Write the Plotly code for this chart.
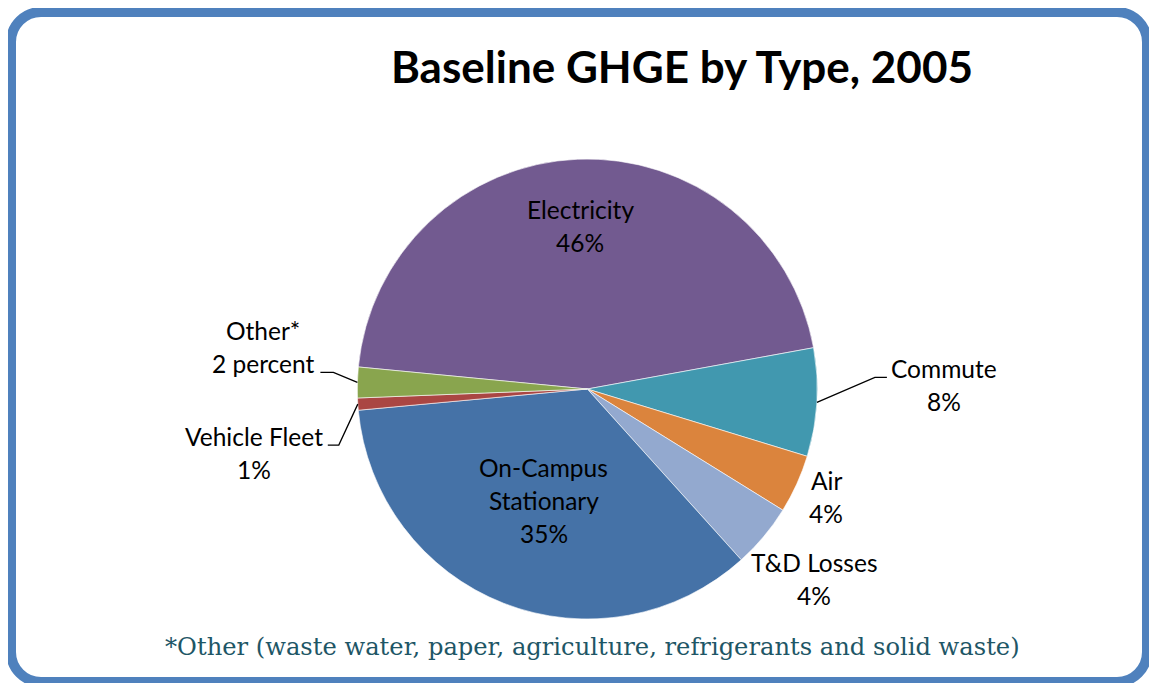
import math
import plotly.graph_objects as go

W, H = 1149, 675
PAGE_OFF = 8                  # browser body margin

# ---- data ----
categories = ["Electricity", "Commute", "Air", "T&D Losses",
              "On-Campus Stationary", "Vehicle Fleet", "Other*"]
values = [45.6, 7.6, 4.1, 4.5, 35.2, 0.85, 2.15]
name_lines = [["Electricity"], ["Commute"], ["Air"], ["T&D Losses"],
              ["On-Campus", "Stationary"], ["Vehicle Fleet"], ["Other*"]]
pct_labels = ["46%", "8%", "4%", "4%", "35%", "1%", "2 percent"]
title_text = "Baseline GHGE by Type, 2005"
footnote_text = "*Other (waste water, paper, agriculture, refrigerants and solid waste)"

# ---- styles / layout (window pixel coordinates) ----
colors = ["#725A90", "#4198AF", "#DB843D", "#93A9CF", "#4572A7", "#AA4643", "#89A54E"]
start_angle = 275.5           # clockwise from 12 o'clock
cx, cy, R = 587.3, 389.0, 230.0
line_gap = 33
label_font = dict(family="Lato", size=24.5, color="#000000")

# label placement: ('in', radius factor) | ('out', radius factor) | ('lead', elbow dx, dy, tail dx, label dx, dy)
placement = [
    ("in", 0.71),
    ("lead", 58, -25, 12, 57, 8),
    ("out", 1.14),
    ("out", 1.285),
    ("in", 0.52),
    ("lead", -19, 41, -11, -74, 8),
    ("lead", -24, -10, -13, -57, -25),
]


def px(x):
    return (x - PAGE_OFF) / W


def py(y):
    return 1 - (y - PAGE_OFF) / H


fig = go.Figure()
fig.add_trace(go.Pie(
    labels=categories, values=values, sort=False, direction="clockwise",
    rotation=start_angle - 360, textinfo="none", hoverinfo="label+percent",
    marker=dict(colors=colors, line=dict(color="#FFFFFF", width=0.6)),
    domain=dict(x=[px(cx - R), px(cx + R)], y=[py(cy + R), py(cy - R)]),
    showlegend=False,
))

annotations = []
shapes = []

total = sum(values)
acc = 0.0
for i, v in enumerate(values):
    mid = math.radians(start_angle + (acc + v / 2) / total * 360)
    acc += v
    sx, sy = math.sin(mid), -math.cos(mid)
    lines = name_lines[i] + [pct_labels[i]]
    p = placement[i]
    if p[0] in ("in", "out"):
        lx, ly = cx + R * p[1] * sx, cy + R * p[1] * sy
    else:
        ex, ey = cx + R * sx, cy + R * sy
        bx, by = ex + p[1], ey + p[2]
        tx = bx + p[3]
        shapes.append(dict(type="path", xref="paper", yref="paper",
                           path=f"M {px(ex)},{py(ey)} L {px(bx)},{py(by)} L {px(tx)},{py(by)}",
                           line=dict(color="#000000", width=1.3)))
        lx, ly = tx + p[4], by + p[5]
    n = len(lines)
    for k, t in enumerate(lines):
        yy = ly + (k - (n - 1) / 2) * line_gap
        annotations.append(dict(text=t, x=px(lx), y=py(yy), xref="paper", yref="paper",
                                xanchor="center", yanchor="middle", showarrow=False,
                                font=label_font))

# title and footnote
annotations.append(dict(text=f"<b>{title_text}</b>", x=px(681.5), y=py(66), xref="paper", yref="paper",
                        xanchor="center", yanchor="middle", showarrow=False,
                        font=dict(family="Lato", size=44, color="#000000")))
annotations.append(dict(text=footnote_text, x=px(592), y=py(647), xref="paper", yref="paper",
                        xanchor="center", yanchor="middle", showarrow=False,
                        font=dict(family="DejaVu Serif", size=24.2, color="#1E5666")))

# rounded border
x0, y0, x1, y1, r = 11, 12, 1147, 682, 30
k = 0.5523 * r
border = (f"M {px(x0 + r)},{py(y0)} L {px(x1 - r)},{py(y0)} "
          f"C {px(x1 - r + k)},{py(y0)} {px(x1)},{py(y0 + r - k)} {px(x1)},{py(y0 + r)} "
          f"L {px(x1)},{py(y1 - r)} "
          f"C {px(x1)},{py(y1 - r + k)} {px(x1 - r + k)},{py(y1)} {px(x1 - r)},{py(y1)} "
          f"L {px(x0 + r)},{py(y1)} "
          f"C {px(x0 + r - k)},{py(y1)} {px(x0)},{py(y1 - r + k)} {px(x0)},{py(y1 - r)} "
          f"L {px(x0)},{py(y0 + r)} "
          f"C {px(x0)},{py(y0 + r - k)} {px(x0 + r - k)},{py(y0)} {px(x0 + r)},{py(y0)} Z")
shapes.append(dict(type="path", xref="paper", yref="paper", path=border,
                   line=dict(color="#4F81BD", width=10), fillcolor="rgba(0,0,0,0)"))

fig.update_layout(
    width=W, height=H, margin=dict(l=0, r=0, t=0, b=0),
    paper_bgcolor="#FFFFFF", plot_bgcolor="#FFFFFF",
    annotations=annotations, shapes=shapes, showlegend=False,
)

fig.write_html("out.html")
